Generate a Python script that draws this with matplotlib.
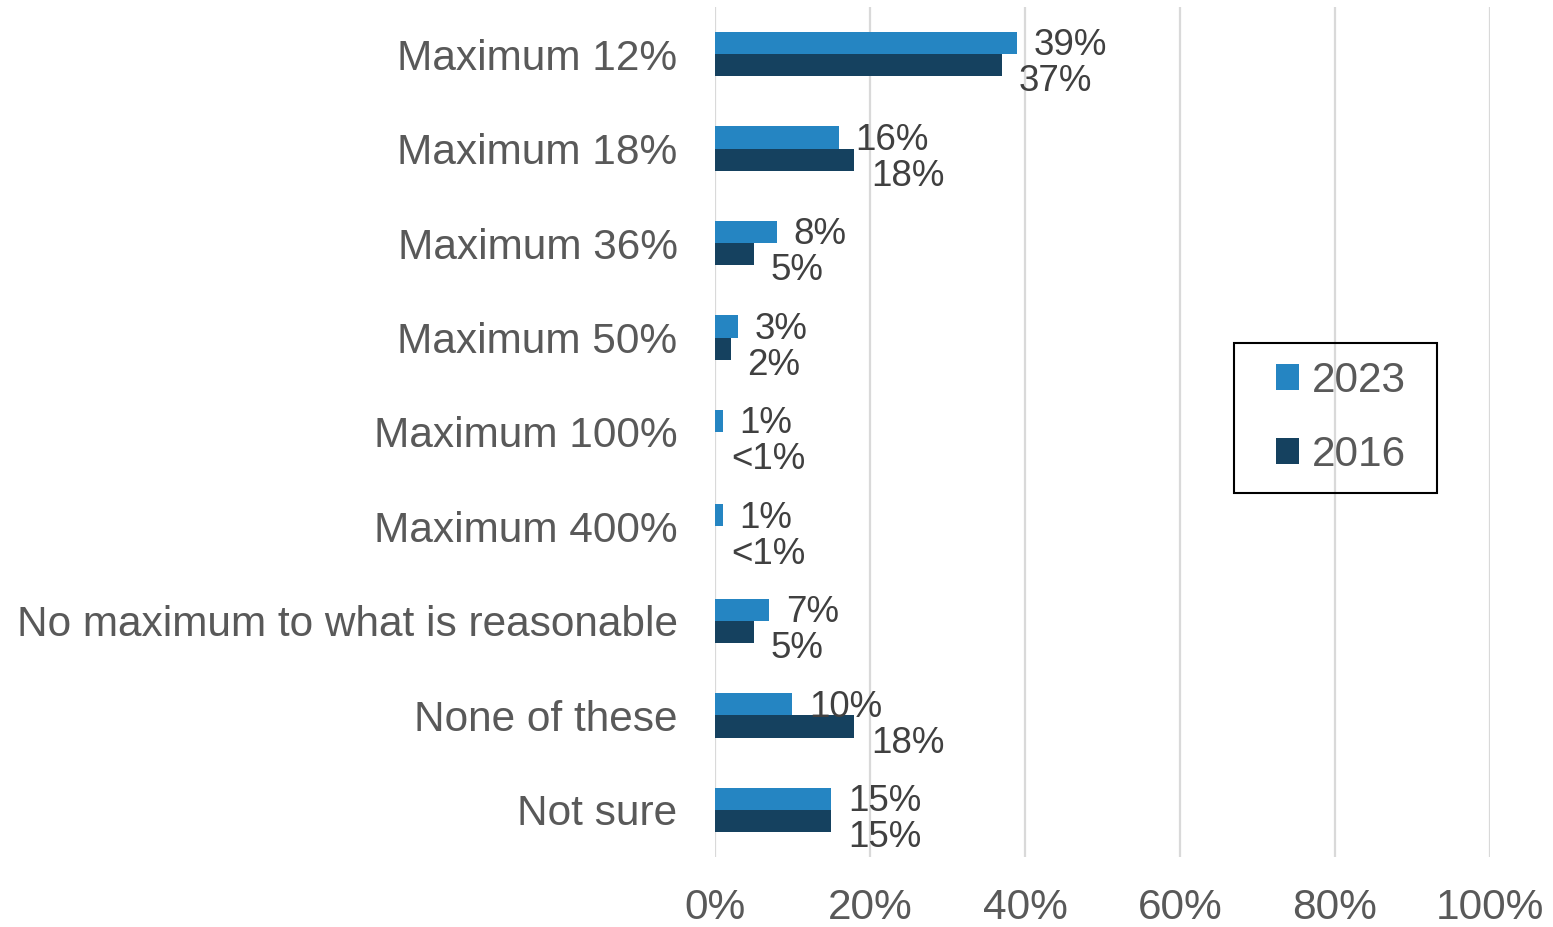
import matplotlib
matplotlib.use("Agg")
import matplotlib.pyplot as plt
from matplotlib.patches import Rectangle
import numpy as np

plt.rcParams["font.family"] = ["Liberation Sans", "DejaVu Sans"]

categories = ["Maximum 12%", "Maximum 18%", "Maximum 36%", "Maximum 50%",
              "Maximum 100%", "Maximum 400%", "No maximum to what is reasonable",
              "None of these", "Not sure"]
vals_2023 = [39, 16, 8, 3, 1, 1, 7, 10, 15]
vals_2016 = [37, 18, 5, 2, 0, 0, 5, 18, 15]
labels_2023 = ["39%", "16%", "8%", "3%", "1%", "1%", "7%", "10%", "15%"]
labels_2016 = ["37%", "18%", "5%", "2%", "<1%", "<1%", "5%", "18%", "15%"]
xticks = [0, 20, 40, 60, 80, 100]

c2023 = "#2585c2"
c2016 = "#15415f"

fig = plt.figure(figsize=(15.53, 9.27), dpi=100)
ax = fig.add_axes([0.4604, 0.0755, 0.499, 0.917])

y = np.arange(len(categories))
h = 0.235
b1 = ax.barh(y - h / 2, vals_2023, h, color=c2023, label="2023")
b2 = ax.barh(y + h / 2, vals_2016, h, color=c2016, label="2016")

for yy, v, lab in zip(y, vals_2023, labels_2023):
    ax.annotate(lab, (v, yy - h / 2), xytext=(12, -2), textcoords="offset points",
                va="center", ha="left", fontsize=26.5, color="#404040")
for yy, v, lab in zip(y, vals_2016, labels_2016):
    ax.annotate(lab, (v, yy + h / 2), xytext=(12, -12), textcoords="offset points",
                va="center", ha="left", fontsize=26.5, color="#404040")

ax.set_xlim(0, 100)
ax.set_ylim(len(categories) - 0.5, -0.5)
ax.set_yticks(y)
ax.set_yticklabels(categories, fontsize=30.5, color="#595959")
ax.set_xticks(xticks)
ax.set_xticklabels([f"{t}%" for t in xticks], fontsize=30.5, color="#595959")
ax.tick_params(axis="both", length=0)
ax.tick_params(axis="y", pad=27)
ax.tick_params(axis="x", pad=22)
ax.grid(axis="x", color="#d9d9d9", linewidth=1.6)
ax.set_axisbelow(True)
for s in ax.spines.values():
    s.set_visible(False)

# legend: text/handles without frame, plus a plain black box like Excel's
fig.legend(handles=[b1, b2], loc="center", bbox_to_anchor=(0.8635, 0.549),
           fontsize=30.5, frameon=False, handlelength=0.55, handleheight=0.55,
           handletextpad=0.3, labelspacing=0.8, borderpad=0, borderaxespad=0,
           labelcolor="#595959")
W, H = 1553, 927
fig.patches.append(Rectangle((1234 / W, 1 - 493 / H), 203 / W, 150 / H,
                             transform=fig.transFigure, fill=False,
                             edgecolor="black", linewidth=1.5))

fig.savefig("out.png", dpi=100)
